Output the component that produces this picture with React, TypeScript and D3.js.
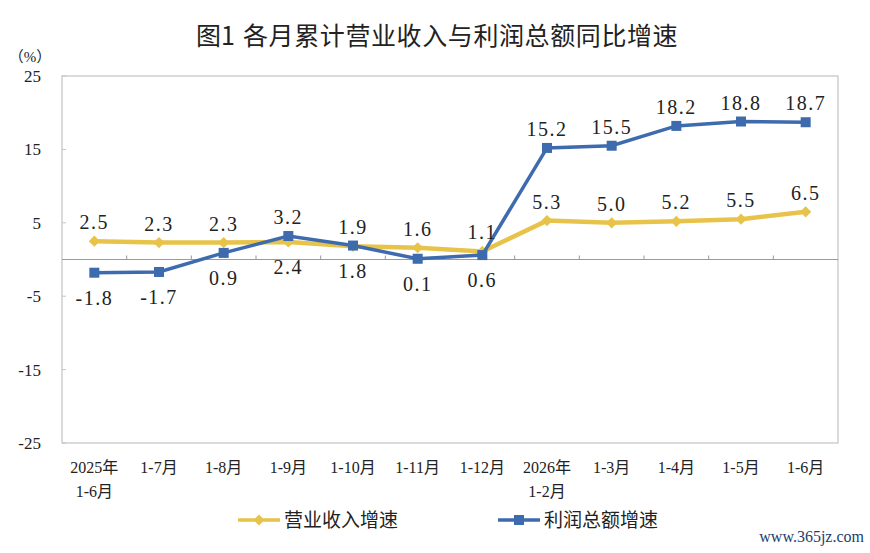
import React, { useEffect, useRef } from "react";
import * as d3 from "d3";

const categories = [
  ["2025年", "1-6月"],
  ["1-7月"],
  ["1-8月"],
  ["1-9月"],
  ["1-10月"],
  ["1-11月"],
  ["1-12月"],
  ["2026年", "1-2月"],
  ["1-3月"],
  ["1-4月"],
  ["1-5月"],
  ["1-6月"],
];
const revenueGrowth = [2.5, 2.3, 2.3, 2.4, 1.8, 1.6, 1.1, 5.3, 5.0, 5.2, 5.5, 6.5];
const profitGrowth = [-1.8, -1.7, 0.9, 3.2, 1.9, 0.1, 0.6, 15.2, 15.5, 18.2, 18.8, 18.7];
const yTicks = [25, 15, 5, -5, -15, -25];
const seriesNames = ["营业收入增速", "利润总额增速"];

const W = 870;
const H = 553;
const YELLOW = "#E8C34A";
const BLUE = "#3D6BAE";
const SERIF = "'Liberation Serif', 'Noto Sans CJK SC', serif";
const CJK = "'Noto Sans CJK SC', sans-serif";

const App: React.FC = () => {
  const ref = useRef<SVGSVGElement | null>(null);

  useEffect(() => {
    const svg = d3.select(ref.current);
    svg.selectAll("*").remove();
    svg.append("rect").attr("width", W).attr("height", H).attr("fill", "#fff");

    const left = 62, right = 838, top = 76, bottom = 443;
    const idx = categories.map((_, i) => String(i));
    const x = d3.scaleBand<string>().domain(idx).range([left, right]);
    const y = d3.scaleLinear().domain([-25, 25]).range([bottom, top]);
    const cx = (i: number) => (x(String(i)) as number) + x.bandwidth() / 2;

    // title
    svg
      .append("text")
      .attr("x", 196)
      .attr("y", 45)
      .attr("font-family", CJK)
      .attr("font-size", 25)
      .attr("fill", "#222")
      .text("图1");
    svg
      .append("text")
      .attr("x", 243)
      .attr("y", 45)
      .attr("font-family", CJK)
      .attr("font-size", 25)
      .attr("letter-spacing", 0.6)
      .attr("fill", "#222")
      .text("各月累计营业收入与利润总额同比增速");

    // frame
    svg
      .append("rect")
      .attr("x", left)
      .attr("y", top)
      .attr("width", right - left)
      .attr("height", bottom - top)
      .attr("fill", "none")
      .attr("stroke", "#c4c4c4")
      .attr("stroke-width", 1.2);

    // y ticks & labels
    svg
      .append("text")
      .attr("x", 30)
      .attr("y", 62)
      .attr("text-anchor", "middle")
      .attr("font-family", SERIF)
      .attr("font-size", 15)
      .attr("fill", "#222")
      .text("（%）");
    yTicks.forEach((t) => {
      svg
        .append("text")
        .attr("x", 41)
        .attr("y", y(t) + 6)
        .attr("text-anchor", "end")
        .attr("font-family", SERIF)
        .attr("font-size", 17)
        .attr("fill", "#222")
        .text(t);
      svg
        .append("line")
        .attr("x1", left)
        .attr("x2", left + 4)
        .attr("y1", y(t))
        .attr("y2", y(t))
        .attr("stroke", "#c4c4c4");
    });

    // zero line and category ticks
    svg
      .append("line")
      .attr("x1", left)
      .attr("x2", right)
      .attr("y1", y(0))
      .attr("y2", y(0))
      .attr("stroke", "#9a9a9a")
      .attr("stroke-width", 1.2);
    idx.slice(1).forEach((d) => {
      const xx = x(d) as number;
      svg
        .append("line")
        .attr("x1", xx)
        .attr("x2", xx)
        .attr("y1", y(0))
        .attr("y2", y(0) - 4)
        .attr("stroke", "#9a9a9a");
    });

    // category labels
    categories.forEach((lines, i) => {
      lines.forEach((s, j) => {
        svg
          .append("text")
          .attr("x", cx(i))
          .attr("y", 473 + j * 24)
          .attr("text-anchor", "middle")
          .attr("font-family", SERIF)
          .attr("font-size", 16)
          .attr("fill", "#222")
          .text(s);
      });
    });

    const line = d3
      .line<number>()
      .x((_, i) => cx(i))
      .y((d) => y(d));

    // revenue (yellow, diamonds)
    svg
      .append("path")
      .attr("d", line(revenueGrowth))
      .attr("fill", "none")
      .attr("stroke", YELLOW)
      .attr("stroke-width", 4.5);
    const diamond = d3.symbol().type(d3.symbolDiamond2).size(80);
    revenueGrowth.forEach((v, i) => {
      svg
        .append("path")
        .attr("d", diamond())
        .attr("transform", `translate(${cx(i)},${y(v)})`)
        .attr("fill", YELLOW);
    });

    // profit (blue, squares)
    svg
      .append("path")
      .attr("d", line(profitGrowth))
      .attr("fill", "none")
      .attr("stroke", BLUE)
      .attr("stroke-width", 3.5);
    profitGrowth.forEach((v, i) => {
      svg
        .append("rect")
        .attr("x", cx(i) - 5)
        .attr("y", y(v) - 5)
        .attr("width", 10)
        .attr("height", 10)
        .attr("fill", BLUE);
    });

    // data labels
    const label = (v: number, i: number, above: boolean) => {
      svg
        .append("text")
        .attr("x", cx(i))
        .attr("y", above ? y(v) - 12 : y(v) + 32)
        .attr("text-anchor", "middle")
        .attr("font-family", SERIF)
        .attr("font-size", 20)
        .attr("letter-spacing", 1.5)
        .attr("fill", "#222")
        .text(v.toFixed(1));
    };
    revenueGrowth.forEach((v, i) => {
      const p = profitGrowth[i];
      const below = p > v && p - v < 5;
      label(v, i, !below);
    });
    profitGrowth.forEach((v, i) => {
      label(v, i, v > revenueGrowth[i]);
    });

    // legend
    const legendItems = [
      { name: seriesNames[0], color: YELLOW, x: 238 },
      { name: seriesNames[1], color: BLUE, x: 498 },
    ];
    legendItems.forEach((it, k) => {
      svg
        .append("line")
        .attr("x1", it.x)
        .attr("x2", it.x + 42)
        .attr("y1", 520)
        .attr("y2", 520)
        .attr("stroke", it.color)
        .attr("stroke-width", 3.5);
      if (k === 0) {
        svg
          .append("path")
          .attr("d", diamond())
          .attr("transform", `translate(${it.x + 21},520)`)
          .attr("fill", it.color);
      } else {
        svg
          .append("rect")
          .attr("x", it.x + 16)
          .attr("y", 515)
          .attr("width", 10)
          .attr("height", 10)
          .attr("fill", it.color);
      }
      svg
        .append("text")
        .attr("x", it.x + 46)
        .attr("y", 527)
        .attr("font-family", CJK)
        .attr("font-size", 19)
        .attr("fill", "#222")
        .text(it.name);
    });

    // watermark
    svg
      .append("text")
      .attr("x", 864)
      .attr("y", 542)
      .attr("text-anchor", "end")
      .attr("font-family", SERIF)
      .attr("font-size", 16)
      .attr("fill", "#1d3d6e")
      .text("www.365jz.com");
  }, []);

  return (
    <svg
      ref={ref}
      width={W}
      height={H}
      style={{ position: "absolute", left: 0, top: 0, display: "block" }}
    />
  );
};

export default App;
